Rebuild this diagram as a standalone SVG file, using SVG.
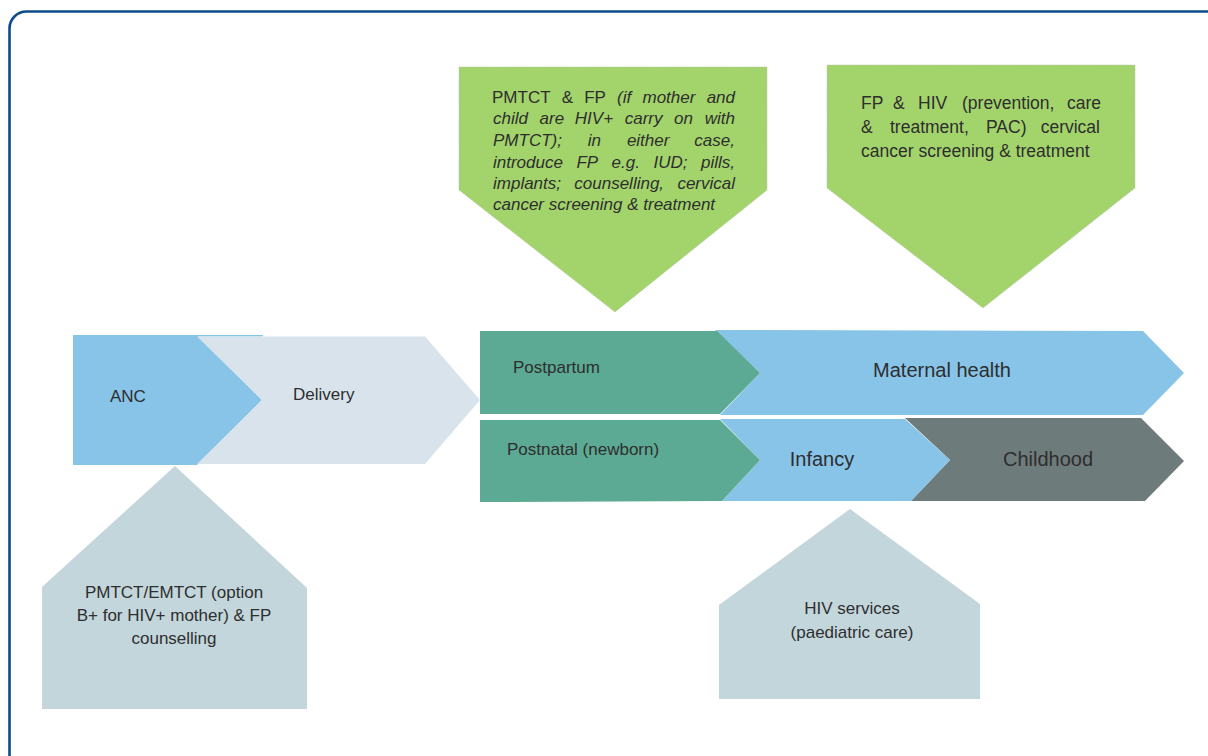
<svg xmlns="http://www.w3.org/2000/svg" width="1208" height="756" viewBox="0 0 1208 756">
<style>
text{font-family:"Liberation Sans",Arial,sans-serif;fill:#2e2e2e}
.t17{font-size:17.5px}
.t1{font-size:17px}
.it{font-style:italic}
.big{font-size:20px}
.mid{font-size:17px}
.green{fill:#a3d46c;stroke:#b9c7a8;stroke-width:0.8;stroke-dasharray:1.5 1}
.teal{fill:#5caa93}
.blue{fill:#88c3e8}
.pale{fill:#d8e3ec}
.grey{fill:#6e7b7b}
.house{fill:#c3d6dc}
</style>
<rect x="9.5" y="11.5" width="1220" height="760" rx="17" ry="17" fill="#fff" stroke="#0b4a8b" stroke-width="2.6"/>

<g id="top-left-box">
<polygon class="green" points="459,67 767,67 767,190 615,312 459,190"/>
<text class="t1" x="492" y="103">PMTCT</text>
<text class="t1" x="561.7" y="103">&amp;</text>
<text class="t1" x="584.2" y="103">FP</text>
<text class="t1 it" x="617.1" y="103">(if</text>
<text class="t1 it" x="642.5" y="103">mother</text>
<text class="t1 it" x="735" y="103" text-anchor="end">and</text>
<text class="t1 it" x="493" y="124">child</text>
<text class="t1 it" x="539.6" y="124">are</text>
<text class="t1 it" x="574.8" y="124">HIV+</text>
<text class="t1 it" x="624.7" y="124">carry</text>
<text class="t1 it" x="674.1" y="124">on</text>
<text class="t1 it" x="735" y="124" text-anchor="end">with</text>
<text class="t1 it" x="493" y="146">PMTCT);</text>
<text class="t1 it" x="587.8" y="146">in</text>
<text class="t1 it" x="626.9" y="146">either</text>
<text class="t1 it" x="735" y="146" text-anchor="end">case,</text>
<text class="t1 it" x="493" y="168">introduce</text>
<text class="t1 it" x="576.4" y="168">FP</text>
<text class="t1 it" x="611.6" y="168">e.g.</text>
<text class="t1 it" x="653.5" y="168">IUD;</text>
<text class="t1 it" x="735" y="168" text-anchor="end">pills,</text>
<text class="t1 it" x="493" y="189">implants;</text>
<text class="t1 it" x="574.3" y="189">counselling,</text>
<text class="t1 it" x="735" y="189" text-anchor="end">cervical</text>
<text class="t1 it" x="493" y="210">cancer screening &amp; treatment</text>
</g>

<g id="top-right-box">
<polygon class="green" points="827,65 1135,65 1135,188 983,308 827,188"/>
<text class="t17" x="861" y="109">FP</text>
<text class="t17" x="893" y="109">&amp;</text>
<text class="t17" x="918" y="109">HIV</text>
<text class="t17" x="962" y="109">(prevention,</text>
<text class="t17" x="1101" y="109" text-anchor="end">care</text>
<text class="t17" x="861" y="133">&amp;</text>
<text class="t17" x="890" y="133">treatment,</text>
<text class="t17" x="986" y="133">PAC)</text>
<text class="t17" x="1100" y="133" text-anchor="end">cervical</text>
<text class="t17" x="861" y="157">cancer screening &amp; treatment</text>
</g>

<g id="anc">
<polygon class="blue" points="73,335 197,335 262,400 197,465 73,465"/>
<rect class="blue" x="197" y="335" width="66" height="1.5"/>
<text class="mid" x="110" y="402">ANC</text>
</g>
<g id="delivery">
<polygon class="pale" points="197,336.5 425,336.5 480,400 425,464 197,464 262,400"/>
<text class="mid" x="293" y="400">Delivery</text>
</g>

<g id="maternal-health">
<polygon class="blue" points="715,330 1143,331 1184,373 1143,415 720,415 760,373"/>
<text class="big" x="942" y="377" text-anchor="middle">Maternal health</text>
</g>
<g id="postpartum">
<polygon class="teal" points="480,331 717,331 760,373 720,414 480,414"/>
<text class="mid" x="513" y="373">Postpartum</text>
</g>

<g id="childhood">
<polygon class="grey" points="905,418 1141,418 1184,461 1145,501 911,501 950,460"/>
<text class="big" x="1048" y="466" text-anchor="middle">Childhood</text>
</g>
<g id="infancy">
<polygon class="blue" points="720,419 905,419 950,460 911,501 722,501 760,460"/>
<text class="big" x="822" y="466" text-anchor="middle">Infancy</text>
</g>
<g id="postnatal">
<polygon class="teal" points="480,420 720,420 760,460 722,501 480,502"/>
<text class="mid" x="507" y="455">Postnatal (newborn)</text>
</g>

<g id="bottom-left-box">
<polygon class="house" points="175,466 307,588 307,709 42,709 42,587"/>
<text class="mid" x="174" y="598" text-anchor="middle">PMTCT/EMTCT (option</text>
<text class="mid" x="174" y="621" text-anchor="middle">B+ for HIV+ mother) &amp; FP</text>
<text class="mid" x="174" y="644" text-anchor="middle">counselling</text>
</g>

<g id="bottom-right-box">
<polygon class="house" points="850,509 980,604 980,699 719,699 719,605"/>
<text class="mid" x="852" y="614" text-anchor="middle">HIV services</text>
<text class="mid" x="852" y="638" text-anchor="middle">(paediatric care)</text>
</g>

<g id="connectors"></g>
</svg>
